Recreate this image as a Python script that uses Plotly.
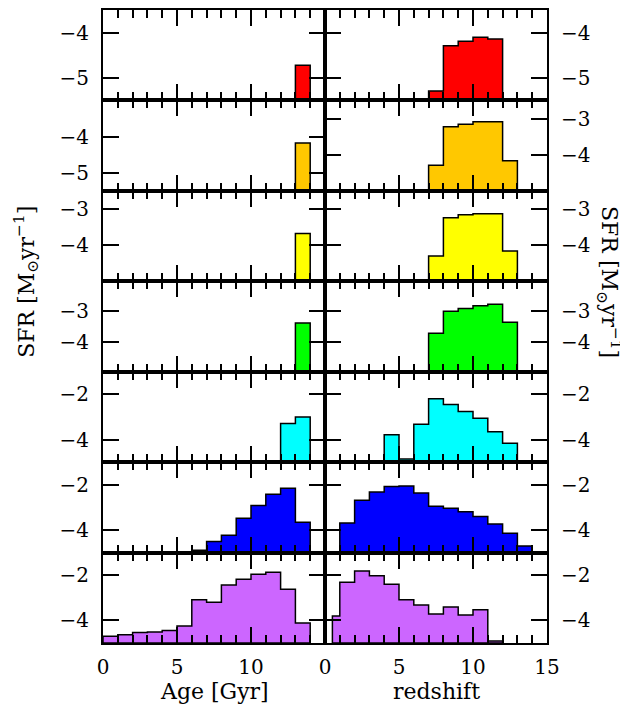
import plotly.graph_objects as go
from plotly.subplots import make_subplots

# ---- data: bin edges and log SFR values ----
# Left column: Age [Gyr]; right column: redshift
age_red_edges = [13, 14]
age_red_sfr = [-4.72]
z_red_edges = [7, 8, 9, 10, 11, 12, 13]
z_red_sfr = [-5.29, -4.29, -4.19, -4.10, -4.14, -5.47]

age_orange_edges = [13, 14]
age_orange_sfr = [-4.18]
z_orange_edges = [7, 8, 9, 10, 11, 12, 13]
z_orange_sfr = [-4.29, -3.23, -3.16, -3.09, -3.09, -4.17]

age_yellow_edges = [13, 14]
age_yellow_sfr = [-3.68]
z_yellow_edges = [7, 8, 9, 10, 11, 12, 13]
z_yellow_sfr = [-4.30, -3.24, -3.16, -3.13, -3.13, -4.16]

age_green_edges = [13, 14]
age_green_sfr = [-3.38]
z_green_edges = [7, 8, 9, 10, 11, 12, 13]
z_green_sfr = [-3.72, -2.99, -2.90, -2.81, -2.76, -3.36]

age_cyan_edges = [12, 13, 14]
age_cyan_sfr = [-3.29, -3.00]
z_cyan_edges = [4, 5, 6, 7, 8, 9, 10, 11, 12, 13]
z_cyan_sfr = [-3.79, -4.86, -3.32, -2.20, -2.45, -2.76, -3.06, -3.66, -4.17]

age_blue_edges = [6, 7, 8, 9, 10, 11, 12, 13, 14]
age_blue_sfr = [-4.90, -4.51, -4.23, -3.48, -2.92, -2.42, -2.16, -3.66]
z_blue_edges = [1, 2, 3, 4, 5, 6, 7, 8, 9, 10, 11, 12, 13, 14]
z_blue_sfr = [-3.69, -2.69, -2.32, -2.08, -2.05, -2.37, -2.95, -3.04, -3.19,
              -3.41, -3.74, -4.15, -4.71]

age_purple_edges = [0, 1, 2, 3, 4, 5, 6, 7, 8, 9, 10, 11, 12, 13, 14]
age_purple_sfr = [-4.70, -4.64, -4.54, -4.51, -4.45, -4.25, -3.09, -3.20,
                  -2.44, -2.18, -1.96, -1.87, -2.62, -4.11]
z_purple_edges = [0.5, 1, 2, 3, 4, 5, 6, 7, 8, 9, 10, 11, 12]
z_purple_sfr = [-3.81, -2.31, -1.82, -2.03, -2.40, -3.09, -3.32, -3.72, -3.41,
                -3.76, -3.53, -4.91]

colors = ["#FF0000", "#FFC800", "#FFFF00", "#00FF00", "#00FFFF", "#0000FF", "#CC66FF"]

left_data = [(age_red_edges, age_red_sfr), (age_orange_edges, age_orange_sfr),
             (age_yellow_edges, age_yellow_sfr), (age_green_edges, age_green_sfr),
             (age_cyan_edges, age_cyan_sfr), (age_blue_edges, age_blue_sfr),
             (age_purple_edges, age_purple_sfr)]
right_data = [(z_red_edges, z_red_sfr), (z_orange_edges, z_orange_sfr),
              (z_yellow_edges, z_yellow_sfr), (z_green_edges, z_green_sfr),
              (z_cyan_edges, z_cyan_sfr), (z_blue_edges, z_blue_sfr),
              (z_purple_edges, z_purple_sfr)]

# y ranges and tick values per panel
left_ranges = [[-5.5, -3.5], [-5.5, -3.0], [-5, -2.5], [-5, -2], [-5, -1], [-5, -1], [-5, -1]]
right_ranges = [[-5.5, -3.5], [-5, -2.5], [-5, -2.5], [-5, -2], [-5, -1], [-5, -1], [-5, -1]]
left_ticks = [[-4, -5], [-4, -5], [-3, -4], [-3, -4], [-2, -4], [-2, -4], [-2, -4]]
right_ticks = [[-4, -5], [-3, -4], [-3, -4], [-3, -4], [-2, -4], [-2, -4], [-2, -4]]

FONT = "DejaVu Serif"

fig = make_subplots(rows=7, cols=2, horizontal_spacing=0, vertical_spacing=0)


def step_polygon(edges, vals, base):
    xs = [edges[0]]
    ys = [base]
    for i, v in enumerate(vals):
        xs += [edges[i], edges[i + 1]]
        ys += [v, v]
    xs += [edges[-1], edges[0]]
    ys += [base, base]
    return xs, ys


for r in range(7):
    for c, (data, rng) in enumerate([(left_data[r], left_ranges[r]), (right_data[r], right_ranges[r])]):
        edges, vals = data
        xs, ys = step_polygon(edges, vals, rng[0])
        fig.add_trace(go.Scatter(x=xs, y=ys, mode="lines", fill="toself",
                                 fillcolor=colors[r],
                                 line=dict(color="black", width=1.5),
                                 showlegend=False, hoverinfo="skip"),
                      row=r + 1, col=c + 1)

tick_font = dict(family=FONT, size=20, color="black")
for r in range(7):
    for c in range(2):
        bottom = (r == 6)
        fig.update_xaxes(
            range=[0, 15], showgrid=False, zeroline=False,
            showline=True, mirror="ticks", linecolor="black", linewidth=2,
            ticks="inside", ticklen=16, tickwidth=1.5, tickcolor="black",
            tickmode="array",
            tickvals=[0, 5, 10] if c == 0 else [0, 5, 10, 15],
            showticklabels=bottom,
            tickfont=tick_font,
            ticklabelstandoff=5,
            minor=dict(ticks="inside", dtick=1, tick0=0, ticklen=8, tickwidth=1.5,
                       tickcolor="black", showgrid=False),
            row=r + 1, col=c + 1)
        fig.update_yaxes(
            range=left_ranges[r] if c == 0 else right_ranges[r],
            side="left" if c == 0 else "right",
            showgrid=False, zeroline=False,
            showline=True, mirror="ticks", linecolor="black", linewidth=2,
            ticks="inside", ticklen=16, tickwidth=1.5, tickcolor="black",
            tickmode="array",
            tickvals=left_ticks[r] if c == 0 else right_ticks[r],
            tickfont=tick_font,
            ticklabelstandoff=8,
            row=r + 1, col=c + 1)

title_font = dict(family=FONT, size=22, color="black")
fig.add_annotation(text="Age [Gyr]", xref="paper", yref="paper", x=0.25, y=-0.076,
                   showarrow=False, font=title_font, xanchor="center", yanchor="middle")
fig.add_annotation(text="redshift", xref="paper", yref="paper", x=0.75, y=-0.076,
                   showarrow=False, font=title_font, xanchor="center", yanchor="middle")
ytitle = "SFR [M<sub>⊙</sub>yr<sup>−1</sup>]"
fig.add_annotation(text=ytitle, xref="paper", yref="paper", x=-0.172, y=0.57,
                   showarrow=False, font=title_font, textangle=-90,
                   xanchor="center", yanchor="middle")
fig.add_annotation(text=ytitle, xref="paper", yref="paper", x=1.14, y=0.57,
                   showarrow=False, font=title_font, textangle=90,
                   xanchor="center", yanchor="middle")

fig.update_layout(width=620, height=700,
                  margin=dict(l=95, r=81, t=0, b=65),
                  paper_bgcolor="white", plot_bgcolor="white",
                  showlegend=False)

fig.write_html("out.html")
